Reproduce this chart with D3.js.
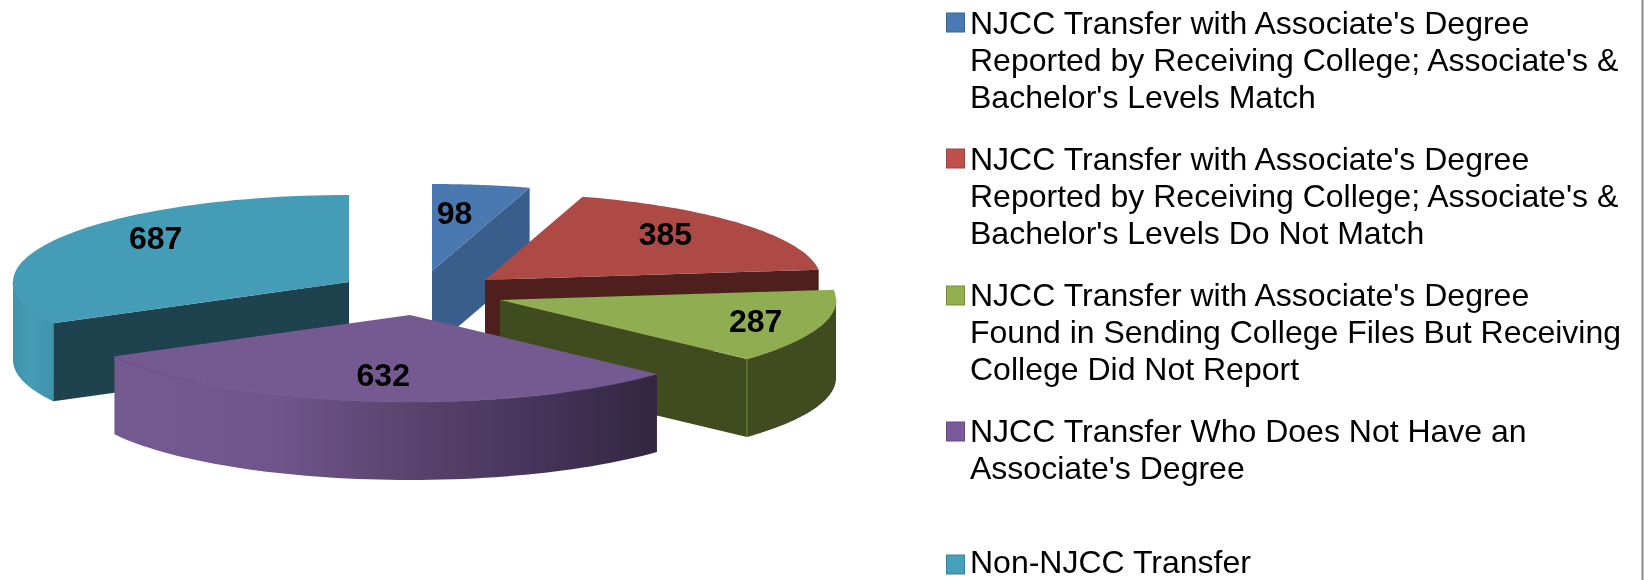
<!DOCTYPE html>
<html><head><meta charset="utf-8">
<script src="https://cdn.jsdelivr.net/npm/d3@7"></script>
<style>html,body{margin:0;padding:0;background:#fff}svg{display:block;filter:blur(.5px)}</style>
</head><body><svg id="c" width="1644" height="580"></svg>
<script>
const seriesLabels=[
 ["NJCC Transfer with Associate's Degree","Reported by Receiving College; Associate's &","Bachelor's Levels Match"],
 ["NJCC Transfer with Associate's Degree","Reported by Receiving College; Associate's &","Bachelor's Levels Do Not Match"],
 ["NJCC Transfer with Associate's Degree","Found in Sending College Files But Receiving","College Did Not Report"],
 ["NJCC Transfer Who Does Not Have an","Associate's Degree"],
 ["Non-NJCC Transfer"]];
const seriesValues=[98,385,287,632,687];
const topColors=["#4a78b0","#ad4a46","#8fae52","#755a92","#459cb6"];
const faceColors=["#395e8b","#4f1f1d","#404b20","#33283f","#1f434e"];
const swatchColors=["#4a7ab5","#c0504d","#93b04f","#7a5a9c","#45a0bc"];
// layout
const rx=336,ry=87,depth=78;
const apexX=[432,485,500,410,349],apexY=[271,280,300,315,282];
const labelFx=[.456,.70,.80,.64,.67],labelFy=[.67,.82,.78,.70,.98];
const drawOrder=[0,1,4,2,3];
const legendBase=[34,170,306,442,573],lineGap=36.8,legendX=970;
const swatchY=[13,149,286,422,555];

const svg=d3.select("#c");
const defs=svg.append("defs");
const g3=defs.append("linearGradient").attr("id","wallPurple").attr("gradientUnits","userSpaceOnUse")
 .attr("x1",114).attr("x2",657).attr("y1",0).attr("y2",0);
[[0,"#755a92"],[.3,"#6f558b"],[.52,"#5c4570"],[.75,"#48365d"],[1,"#322640"]].forEach(s=>g3.append("stop").attr("offset",s[0]).attr("stop-color",s[1]));
const g4=defs.append("linearGradient").attr("id","wallTeal").attr("gradientUnits","userSpaceOnUse")
 .attr("x1",13).attr("x2",53).attr("y1",0).attr("y2",0);
[[0,"#3f93ad"],[.5,"#459cb6"],[1,"#3f93ad"]].forEach(s=>g4.append("stop").attr("offset",s[0]).attr("stop-color",s[1]));
const wallFill={3:"url(#wallPurple)",4:"url(#wallTeal)"};

const arcs=d3.pie().sort(null).value(d=>d)(seriesValues);
const proj=(i,a,f=1,dz=0)=>[apexX[i]+rx*f*Math.sin(a),apexY[i]-ry*f*Math.cos(a)+dz];
const line=d3.line();
const sweep=(a0,a1)=>d3.range(0,61).map(k=>a0+(a1-a0)*k/60);

drawOrder.forEach(i=>{
 const d=arcs[i],g=svg.append("g");
 const a0=d.startAngle,a1=d.endAngle;
 if(a0>Math.PI&&a0<2*Math.PI){
  g.append("path").attr("d",line([proj(i,a0,0),proj(i,a0),proj(i,a0,1,depth),proj(i,a0,0,depth)])+"Z").attr("fill",faceColors[i]);
 }
 if(a1>0&&a1<Math.PI){
  g.append("path").attr("d",line([proj(i,a1,0),proj(i,a1),proj(i,a1,1,depth),proj(i,a1,0,depth)])+"Z").attr("fill",faceColors[i]);
 }
 const w0=Math.max(a0,Math.PI/2),w1=Math.min(a1,Math.PI*1.5);
 if(w1>w0){
  const top=sweep(w0,w1).map(a=>proj(i,a));
  const bot=sweep(w1,w0).map(a=>proj(i,a,1,depth));
  g.append("path").attr("d",line(top.concat(bot))+"Z").attr("fill",wallFill[i]||faceColors[i]);
  g.append("path").attr("d",line(top)).attr("fill","none").attr("stroke",i==3?"#5f4878":i==4?"#37798e":"#6e8a3a").attr("stroke-width",.8);
 }
 const pts=[proj(i,a0,0)].concat(sweep(a0,a1).map(a=>proj(i,a)));
 g.append("path").attr("d",line(pts)+"Z").attr("fill",topColors[i]);
 if(i==2){
  const c=proj(i,a1);
  g.append("path").attr("d",line([c,[c[0],c[1]+depth]])).attr("stroke","#6e8a3a").attr("stroke-width",1).attr("fill","none");
 }
 if(i==4){
  const c=proj(i,a0);
  g.append("path").attr("d",line([c,[c[0],c[1]+depth]])).attr("stroke","#37798e").attr("stroke-width",.8).attr("fill","none");
 }
});

arcs.forEach((d,i)=>{
 const m=(d.startAngle+d.endAngle)/2;
 svg.append("text").attr("x",apexX[i]+rx*labelFx[i]*Math.sin(m)).attr("y",apexY[i]-ry*labelFy[i]*Math.cos(m)+11)
  .attr("text-anchor","middle").attr("font-family","Liberation Sans").attr("font-weight","bold").attr("font-size",32).attr("fill","#000").text(d.value);
});

seriesLabels.forEach((ls,i)=>{
 svg.append("rect").attr("x",946.5).attr("y",swatchY[i]).attr("width",18).attr("height",19)
  .attr("fill",swatchColors[i]).attr("stroke",d3.color(swatchColors[i]).darker(.6)).attr("stroke-width",1);
 ls.forEach((t,j)=>svg.append("text").attr("x",legendX).attr("y",legendBase[i]+j*lineGap)
  .attr("font-family","Liberation Sans").attr("font-size",32).attr("fill","#000").text(t));
});
svg.append("line").attr("x1",1642.5).attr("x2",1642.5).attr("y1",0).attr("y2",580).attr("stroke","#8a8a8a").attr("stroke-width",2);
</script></body></html>
